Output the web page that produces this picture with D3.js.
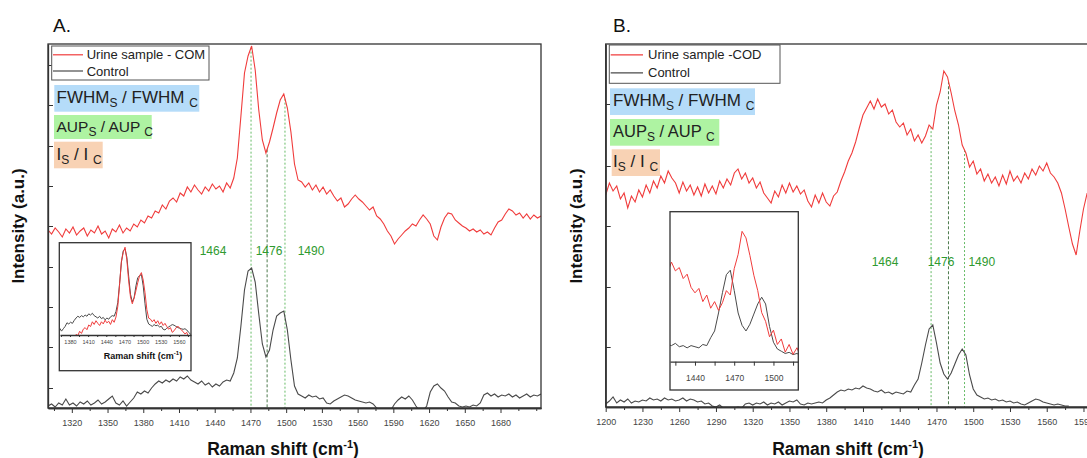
<!DOCTYPE html>
<html>
<head>
<meta charset="utf-8">
<script src="https://cdn.jsdelivr.net/npm/d3@7"></script>
<style>
	body { margin: 0; background: #fff; }
	svg { display: block; font-family: 'Liberation Sans', Arial, sans-serif; }
	text { white-space: pre; }
</style>
</head>
<body>
<div id="canvas"></div>
<script>
// Raman shift grids (cm-1), one reading every 3 cm-1
const shiftA = d3.range(1300, 1715, 3);
const shiftB = d3.range(1200, 1594, 3);

// panel A: urine sample with COM vs control
const urineCOM = [
	178, 174, 180, 176, 171, 179, 175, 181, 173, 177,
	180, 172, 178, 175, 182, 174, 177, 170, 179, 176,
	183, 175, 180, 177, 184, 181, 188, 185, 192, 190,
	197, 195, 203, 199, 207, 210, 206, 215, 212, 221,
	216, 223, 218, 214, 221, 217, 224, 219, 222, 216,
	225, 220, 230, 250, 292, 335, 352, 362, 338, 298,
	268, 255, 266, 280, 295, 308, 314, 300, 276, 244,
	228, 226, 221, 225, 218, 223, 216, 221, 214, 218,
	212, 207, 210, 201, 204, 209, 213, 209, 206, 202,
	198, 201, 192, 189, 184, 177, 172, 164, 169, 173,
	177, 180, 184, 182, 188, 193, 189, 184, 172, 168,
	181, 190, 195, 194, 188, 185, 182, 180, 177, 179,
	176, 178, 174, 176, 173, 180, 186, 188, 194, 199,
	197, 193, 195, 190, 194, 189, 193, 190, 192,
];
const controlA = [
	2, 4, 1, 5, 3, 9, 3, 5, 2, 6,
	4, 7, 3, 5, 8, 4, 6, 9, 12, 5,
	3, 7, 2, 6, 10, 16, 14, 17, 15, 20,
	24, 27, 25, 28, 26, 29, 27, 31, 29, 32,
	28, 26, 24, 27, 23, 25, 21, 24, 22, 26,
	28, 27, 35, 50, 82, 118, 137, 140, 126, 94,
	64, 51, 58, 78, 92, 95, 97, 78, 48, 22,
	14, 12, 10, 13, 11, 12, 9, 10, 5, 4,
	7, 9, 11, 13, 12, 10, 8, 7, 6, 5,
	6, 4, 0, -3, -4, -3, -2, 4, 8, 11,
	9, 12, 8, 2, -3, -3, 2, 16, 22, 24,
	20, 17, 11, 6, 5, 2, 1, 2, 1, 3,
	2, 5, 13, 15, 12, 14, 11, 13, 12, 14,
	11, 13, 10, 12, 14, 11, 13, 12, 14,
];

// panel B: urine sample with COD vs control
const urineCOD = [
	212, 224, 216, 221, 208, 214, 199, 211, 205, 217,
	210, 222, 214, 226, 219, 231, 224, 236, 229, 224,
	214, 225, 216, 222, 212, 220, 211, 223, 214, 221,
	213, 226, 219, 228, 222, 234, 238, 228, 234, 224,
	229, 219, 225, 214, 209, 204, 216, 210, 222, 214,
	224, 215, 221, 213, 217, 206, 200, 212, 204, 214,
	205, 201, 211, 215, 226, 235, 246, 254, 265, 279,
	292, 299, 306, 298, 308, 300, 303, 293, 297, 285,
	280, 284, 272, 278, 266, 272, 264, 271, 282, 278,
	302, 315, 336, 330, 314, 296, 282, 262, 254, 240,
	246, 233, 238, 226, 233, 224, 230, 221, 232, 223,
	236, 226, 231, 224, 234, 228, 238, 232, 241, 236,
	244, 234, 230, 224, 214, 198, 180, 163, 152, 176,
	198, 214,
];
const controlB = [
	3, 6, 10, 4, 7, 5, 8, 4, 6, 5,
	7, 6, 9, 7, 8, 6, 9, 7, 8, 6,
	7, 9, 6, 8, 7, 5, 6, 3, 4, 1,
	0, 2, -1, -2, -2, -1, 0, -1, 3, 4,
	2, 4, 3, 5, 2, 4, 3, 5, 2, 4,
	6, 5, 7, 3, 2, 4, 3, 4, 5, 4,
	7, 9, 12, 15, 17, 16, 18, 17, 19, 18,
	21, 19, 18, 16, 15, 17, 14, 15, 13, 15,
	14, 13, 16, 15, 22, 28, 44, 62, 78, 82,
	64, 44, 33, 28, 34, 43, 52, 58, 52, 32,
	18, 12, 10, 8, 9, 7, 8, 6, 7, 5,
	6, 4, 5, 3, 2, 4, 6, 8, 7, 5,
	4, 3, 2, 3, 2, 1, 1,
];

const namesA = ['Urine sample - COM', 'Control'];
const namesB = ['Urine sample -COD', 'Control'];
const ratioNames = ['FWHM', 'AUP', 'I'];

const tickLabelsA = [1320, 1350, 1380, 1410, 1440, 1470, 1500, 1530, 1560, 1590, 1620, 1650, 1680];
const tickLabelsB = [1200, 1230, 1260, 1290, 1320, 1350, 1380, 1410, 1440, 1470, 1500, 1530, 1560, 1590];
const insetTicksA = [1380, 1410, 1440, 1470, 1500, 1530, 1560];
const insetTicksB = [1440, 1470, 1500];
const yTicksA = [20, 61, 101, 141, 182, 222, 262, 303, 343];
const yTicksB = [60, 120, 181, 241, 303];

// marked bands: label text, line position and label position (cm-1)
const peakNames = ['1464', '1476', '1490'];
const peakPosA = [1470.5, 1484, 1499];
const peakPosB = [1465.6, 1479.8, 1492.9];
const peakTextA = [1438.6, 1485.6, 1520.9];
const peakTextB = [1428, 1473.7, 1507];

const W = 1087;
const H = 458;
const colors = {
	sample: '#f03c3c',
	control: '#4a4a4a',
	axis: '#333',
	peak: '#66bb66',
	peakMid: '#4d7a4d',
	peakText: '#2f9a2f',
	boxes: ['#b5dcf9', '#aef3a2', '#f8d2b4'],
};

const panels = [
	{
		id: 'A', letter: 'A.', shift: shiftA, sample: urineCOM, control: controlA, names: namesA,
		ticks: tickLabelsA, tickRange: [1305, 1710], yTicks: yTicksA,
		peaks: peakPosA, peakText: peakTextA, peakY: 255,
		plot: { l: 48, r: 541, t: 44, b: 408 }, xDomain: [1300, 1714], yDomain: [0, 364],
		legend: { x: 51.7, y: 46, w: 157.3, h: 34, textX: 86.7, rows: [59.3, 75.5], lineX: [53, 83] },
		boxes: [
			{ x: 54.3, y: 85, w: 145, h: 26.7, base: 103, size: 17 },
			{ x: 54, y: 115, w: 97.7, h: 24, base: 132, size: 15.5 },
			{ x: 54, y: 141.7, w: 48.7, h: 26.6, base: 160, size: 17 },
		],
		textX: 56.5, letterPos: [53, 32], yTitle: [24, 226], xTitle: [283, 455],
		inset: {
			frame: { x: 59.3, y: 242.7, w: 131.7, h: 128 }, plot: { l: 60, r: 191, t: 243, b: 335 },
			xDomain: [1363.5, 1580], sampleDomain: [196, 370], controlDomain: [-4.5, 150],
			ticks: insetTicksA, tickRange: [1365, 1575], font: 5.5, tick: 2, pad: 3.5,
			title: [143, 359],
		},
	},
	{
		id: 'B', letter: 'B.', shift: shiftB, sample: urineCOD, control: controlB, names: namesB,
		ticks: tickLabelsB, tickRange: [1200, 1590], yTicks: yTicksB,
		peaks: peakPosB, peakText: peakTextB, peakY: 266,
		plot: { l: 605.7, r: 1095, t: 44, b: 407 }, xDomain: [1200, 1599.4], yDomain: [0, 363],
		legend: { x: 609.3, y: 45, w: 170.7, h: 38.3, textX: 648, rows: [59.3, 77.3], lineX: [610.7, 643] },
		boxes: [
			{ x: 610, y: 88.3, w: 145, h: 26.7, base: 106, size: 17 },
			{ x: 610, y: 119, w: 109.3, h: 26.7, base: 136.7, size: 16.5 },
			{ x: 611.7, y: 149.3, w: 48.3, h: 26.7, base: 166.7, size: 17 },
		],
		textX: 613, letterPos: [613, 32], yTitle: [582, 226], xTitle: [848, 455],
		inset: {
			frame: { x: 670, y: 211.7, w: 128.3, h: 178.3 }, plot: { l: 670, r: 798.3, t: 212, b: 361.7 },
			xDomain: [1420.9, 1519], sampleDomain: [217.3, 353.6], controlDomain: [0.7, 133.7],
			ticks: insetTicksB, tickRange: [1425, 1515], font: 8.5, tick: 4, pad: 9,
			title: null,
		},
	},
];

const svg = d3.select('#canvas').append('svg').attr('width', W).attr('height', H);
svg.append('rect').attr('width', W).attr('height', H).attr('fill', '#fff');
const defs = svg.append('defs');

panels.forEach(drawPanel);

function styleAxis(sel, fontSize) {
	sel.attr('font-family', "'Liberation Sans', Arial, sans-serif").attr('font-size', fontSize);
	sel.select('.domain').attr('stroke', colors.axis).attr('stroke-width', 1.3);
	sel.selectAll('.tick line').attr('stroke', colors.axis);
	sel.selectAll('.tick text').attr('fill', '#444');
}

function addClip(id, r) {
	defs.append('clipPath').attr('id', id).append('rect')
		.attr('x', r.l).attr('y', r.t).attr('width', r.r - r.l).attr('height', r.b - r.t);
}

function ramanTitle(g, pos, size, supSize) {
	const t = g.append('text').attr('x', pos[0]).attr('y', pos[1])
		.attr('text-anchor', 'middle').attr('font-weight', 'bold').attr('font-size', size).attr('fill', '#111');
	t.append('tspan').text('Raman shift (cm');
	t.append('tspan').attr('font-size', supSize).attr('dy', -size * 0.4).text('-1');
	t.append('tspan').attr('dy', size * 0.4).text(')');
}

function drawPanel(p) {
	const { plot } = p;
	const x = d3.scaleLinear().domain(p.xDomain).range([plot.l, plot.r]);
	const y = d3.scaleLinear().domain(p.yDomain).range([plot.b, plot.t]);
	const g = svg.append('g').attr('id', 'panel' + p.id);

	const sampleData = p.sample.map((v, i) => [p.shift[i], v]);
	const controlData = p.control.map((v, i) => [p.shift[i], v]);
	const sampleAt = v => {
		const i = d3.bisector(d => d[0]).right(sampleData, v);
		const a = sampleData[i - 1];
		const b = sampleData[i];
		return a[1] + ((b[1] - a[1]) * (v - a[0])) / (b[0] - a[0]);
	};

	addClip('clip' + p.id, plot);
	const inner = g.append('g').attr('clip-path', `url(#clip${p.id})`);

	// marked bands
	inner.selectAll('line.peak')
		.data(p.peaks)
		.join('line')
		.attr('class', 'peak')
		.attr('x1', d => x(d))
		.attr('x2', d => x(d))
		.attr('y1', d => y(sampleAt(d)))
		.attr('y2', plot.b)
		.attr('stroke', (d, i) => (i === 1 ? colors.peakMid : colors.peak))
		.attr('stroke-width', 1)
		.attr('stroke-dasharray', (d, i) => (i === 1 ? '3,2' : '2,2'));

	const line = d3.line().x(d => x(d[0])).y(d => y(d[1]));
	inner.append('path').attr('d', line(controlData))
		.attr('fill', 'none').attr('stroke', colors.control).attr('stroke-width', 1.1);
	inner.append('path').attr('d', line(sampleData))
		.attr('fill', 'none').attr('stroke', colors.sample).attr('stroke-width', 1.1);

	g.selectAll('text.peakLabel')
		.data(p.peakText)
		.join('text')
		.attr('class', 'peakLabel')
		.attr('x', d => x(d))
		.attr('y', p.peakY)
		.attr('text-anchor', 'middle')
		.attr('font-size', 12)
		.attr('fill', colors.peakText)
		.text((d, i) => peakNames[i]);

	// frame and axes
	g.append('rect')
		.attr('x', plot.l).attr('y', plot.t)
		.attr('width', plot.r - plot.l).attr('height', plot.b - plot.t)
		.attr('fill', 'none').attr('stroke', colors.axis).attr('stroke-width', 1.3);

	const minor = d3.range(p.tickRange[0], p.tickRange[1] + 1, 15).filter(d => !p.ticks.includes(d));
	g.append('g').attr('transform', `translate(0,${plot.b})`)
		.call(d3.axisBottom(x).tickValues(minor).tickSize(3).tickSizeOuter(0).tickFormat(''))
		.call(styleAxis, 9);
	g.append('g').attr('transform', `translate(0,${plot.b})`)
		.call(d3.axisBottom(x).tickValues(p.ticks).tickSize(5).tickSizeOuter(0).tickPadding(7).tickFormat(d3.format('d')))
		.call(styleAxis, 9);
	g.append('g').attr('transform', `translate(${plot.l},0)`)
		.call(d3.axisLeft(y).tickValues(p.yTicks).tickSize(-5).tickSizeOuter(0).tickFormat(''))
		.call(styleAxis, 9);

	// titles
	g.append('text').attr('x', p.letterPos[0]).attr('y', p.letterPos[1])
		.attr('font-size', 19).attr('fill', '#111').text(p.letter);
	g.append('text')
		.attr('transform', `translate(${p.yTitle[0]},${p.yTitle[1]}) rotate(-90)`)
		.attr('text-anchor', 'middle').attr('font-weight', 'bold').attr('font-size', 17).attr('fill', '#111')
		.text('Intensity (a.u.)');
	ramanTitle(g, p.xTitle, 17.5, 11);

	// legend
	const lg = p.legend;
	g.append('rect').attr('x', lg.x).attr('y', lg.y).attr('width', lg.w).attr('height', lg.h)
		.attr('fill', '#fff').attr('stroke', '#555').attr('stroke-width', 1);
	p.names.forEach((name, i) => {
		g.append('line')
			.attr('x1', lg.lineX[0]).attr('x2', lg.lineX[1])
			.attr('y1', lg.rows[i] - 4.5).attr('y2', lg.rows[i] - 4.5)
			.attr('stroke', i === 0 ? colors.sample : colors.control).attr('stroke-width', 1.2);
		g.append('text').attr('x', lg.textX).attr('y', lg.rows[i])
			.attr('font-size', 13).attr('fill', '#222').text(name);
	});

	// ratio boxes
	p.boxes.forEach((b, i) => {
		g.append('rect').attr('x', b.x).attr('y', b.y).attr('width', b.w).attr('height', b.h)
			.attr('fill', colors.boxes[i]);
		const t = g.append('text').attr('x', p.textX).attr('y', b.base)
			.attr('font-size', b.size).attr('fill', '#222');
		t.append('tspan').text(ratioNames[i]);
		t.append('tspan').attr('font-size', 12).attr('dy', 4).text('S');
		t.append('tspan').attr('dy', -4).text(` / ${ratioNames[i]} `);
		t.append('tspan').attr('font-size', 12).attr('dy', 4).text('C');
	});

	drawInset(p, sampleData, controlData);
}

function drawInset(p, sampleData, controlData) {
	const ins = p.inset;
	const r = ins.plot;
	const g = svg.append('g').attr('id', 'inset' + p.id);
	const x = d3.scaleLinear().domain(ins.xDomain).range([r.l, r.r]);
	const ys = d3.scaleLinear().domain(ins.sampleDomain).range([r.b, r.t]);
	const yc = d3.scaleLinear().domain(ins.controlDomain).range([r.b, r.t]);

	g.append('rect')
		.attr('x', ins.frame.x).attr('y', ins.frame.y).attr('width', ins.frame.w).attr('height', ins.frame.h)
		.attr('fill', '#fff');

	addClip('clipInset' + p.id, r);
	const inner = g.append('g').attr('clip-path', `url(#clipInset${p.id})`);
	inner.append('path')
		.attr('d', d3.line().x(d => x(d[0])).y(d => yc(d[1]))(controlData))
		.attr('fill', 'none').attr('stroke', colors.control).attr('stroke-width', 1);
	inner.append('path')
		.attr('d', d3.line().x(d => x(d[0])).y(d => ys(d[1]))(sampleData))
		.attr('fill', 'none').attr('stroke', colors.sample).attr('stroke-width', 1);

	g.append('g').attr('transform', `translate(0,${r.b})`)
		.call(d3.axisBottom(x)
			.tickValues(d3.range(ins.tickRange[0], ins.tickRange[1] + 1, 15))
			.tickSize(ins.tick).tickSizeOuter(0).tickPadding(ins.pad)
			.tickFormat(d => (ins.ticks.includes(d) ? d : '')))
		.call(styleAxis, ins.font);

	g.append('rect')
		.attr('x', ins.frame.x).attr('y', ins.frame.y).attr('width', ins.frame.w).attr('height', ins.frame.h)
		.attr('fill', 'none').attr('stroke', colors.axis).attr('stroke-width', 1.3);

	if (ins.title) ramanTitle(g, ins.title, 9, 6);
}
</script>
</body>
</html>
